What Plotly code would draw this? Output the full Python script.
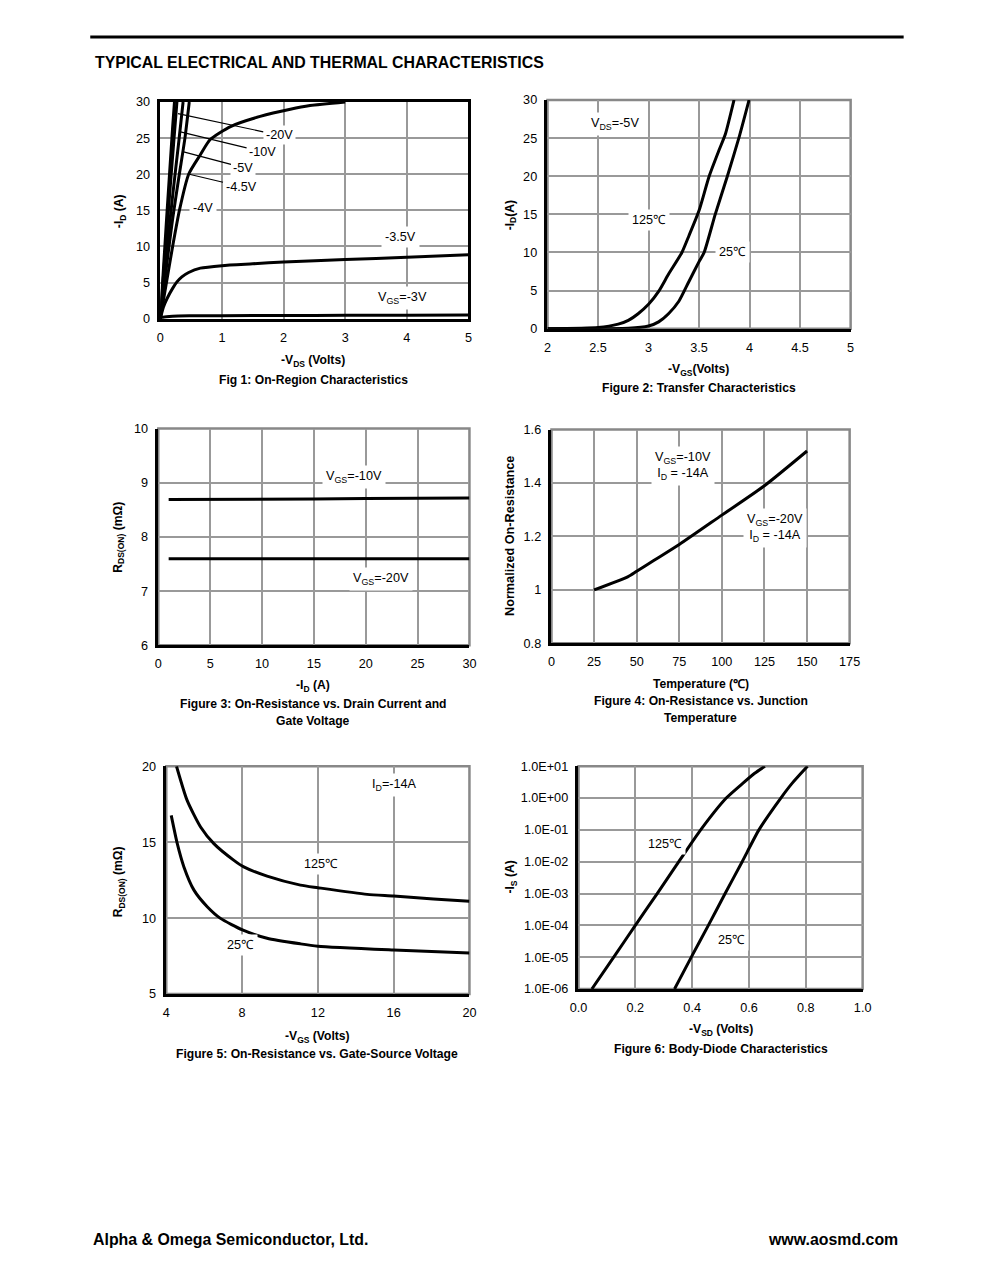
import plotly.graph_objects as go

# Page is 991x1276; the html body keeps its default 8px margin,
# so the figure is 975x1260 and page pixel p maps to figure pixel p-8.
# The photographed picture is slightly shrunk towards its centre, so target
# picture positions are converted back with (S, O).
PAGE_OFF = 8
W, H = 975, 1260
S_X, O_X = 0.979, 8.95
S_Y, O_Y = 0.990, 6.0
FS = 1 / 0.987
FONT = "Liberation Sans, Arial, sans-serif"

# ---------------- DATA ----------------
# Fig 1: On-region characteristics  (-VDS, -ID)
f1_vgs20_x = [0, 0.1, 0.2, 0.23]
f1_vgs20_y = [0, 13.5, 26.5, 30]
f1_vgs10_x = [0, 0.1, 0.2, 0.27]
f1_vgs10_y = [0, 11.5, 22.5, 30]
f1_vgs5_x = [0, 0.1, 0.2, 0.3, 0.37]
f1_vgs5_y = [0, 8.8, 17, 24.5, 30]
f1_vgs45_x = [0, 0.1, 0.2, 0.3, 0.4, 0.47]
f1_vgs45_y = [0, 7.2, 13.8, 19.5, 25, 30]
f1_vgs4_x = [0, 0.1, 0.2, 0.31, 0.46, 0.65, 0.81, 1.14, 1.62, 2.11, 2.43, 3.0]
f1_vgs4_y = [0, 5, 10, 15, 20, 22.7, 24.8, 26.6, 28.0, 29.0, 29.5, 30]
f1_vgs35_x = [0, 0.05, 0.11, 0.2, 0.27, 0.35, 0.46, 0.65, 1.0, 1.5, 2, 3, 4, 5]
f1_vgs35_y = [0, 1.6, 2.8, 4.2, 5.1, 5.8, 6.4, 7.0, 7.35, 7.6, 7.85, 8.2, 8.5, 8.85]
f1_vgs3_x = [0, 0.05, 0.2, 0.5, 1, 2, 3, 4, 5]
f1_vgs3_y = [0, 0.2, 0.35, 0.4, 0.42, 0.45, 0.47, 0.48, 0.5]

# Fig 2: Transfer characteristics (-VGS, -ID)
f2_125_x = [2.0, 2.5, 2.7, 2.8, 2.9, 3.0, 3.1, 3.2, 3.33, 3.4, 3.5, 3.6, 3.7, 3.76, 3.846]
f2_125_y = [0, 0.15, 0.6, 1.1, 2.0, 3.2, 4.9, 7.2, 10, 12.2, 15.5, 20, 23.5, 25.5, 30]
f2_25_x = [2.0, 2.8, 3.0, 3.1, 3.2, 3.3, 3.4, 3.5, 3.55, 3.66, 3.78, 3.9, 3.995]
f2_25_y = [0, 0.05, 0.35, 0.9, 2.0, 3.6, 6.2, 8.8, 10, 15, 20, 25.3, 30]

# Fig 3: RDS(ON) vs ID
f3_id = [1, 5, 10, 15, 20, 25, 30]
f3_vgs10 = [8.69, 8.69, 8.70, 8.70, 8.71, 8.71, 8.72]
f3_vgs20 = [7.60, 7.60, 7.60, 7.60, 7.60, 7.60, 7.60]

# Fig 4: Normalized RDS(ON) vs temperature
f4_t = [25, 45, 50, 60, 75, 100, 125, 150]
f4_r = [1.0, 1.05, 1.07, 1.11, 1.17, 1.28, 1.39, 1.52]

# Fig 5: RDS(ON) vs VGS
f5_125_x = [4.54, 5.1, 5.81, 6.51, 7.57, 8.09, 9.32, 11.08, 12, 14.6, 16, 18.1, 20]
f5_125_y = [20, 17.75, 16.0, 14.9, 13.8, 13.37, 12.76, 12.17, 12.0, 11.56, 11.45, 11.25, 11.1]
f5_25_x = [4.26, 4.58, 4.93, 5.46, 6.16, 6.86, 8.02, 9.32, 11.08, 12, 16, 20]
f5_25_y = [16.76, 14.9, 13.37, 11.84, 10.75, 9.98, 9.22, 8.67, 8.30, 8.15, 7.9, 7.7]

# Fig 6: Body diode (-VSD, -IS)
f6_125_x = [0.047, 0.124, 0.200, 0.277, 0.353, 0.43, 0.52, 0.58, 0.62, 0.656]
f6_125_y = [1e-6, 1e-5, 1e-4, 1e-3, 1e-2, 1e-1, 1, 3, 6, 10]
f6_25_x = [0.338, 0.397, 0.457, 0.516, 0.576, 0.635, 0.712, 0.753, 0.806]
f6_25_y = [1e-6, 1e-5, 1e-4, 1e-3, 1e-2, 1e-1, 1, 3, 10]

f6_tickvals = [1e-6, 1e-5, 1e-4, 1e-3, 1e-2, 1e-1, 1, 10]
f6_ticktext = ["1.0E-06", "1.0E-05", "1.0E-04", "1.0E-03", "1.0E-02", "1.0E-01", "1.0E+00", "1.0E+01"]

# ---------------- LAYOUT HELPERS ----------------
def px_x(p):
    page = (p - O_X) / S_X
    return (page - PAGE_OFF) / W

def px_y(p):
    page = (p - O_Y) / S_Y
    return 1 - (page - PAGE_OFF) / H

fig = go.Figure()
layout = dict(
    width=W, height=H, autosize=False,
    margin=dict(l=0, r=0, t=0, b=0),
    paper_bgcolor="white", plot_bgcolor="white",
    showlegend=False,
    font=dict(family=FONT, size=12 * FS, color="black"),
)

GRID = "#999999"
TICKSZ = 12.5 * FS
boxes = {
    1: (160, 468, 101, 318),
    2: (547, 850, 99, 328),
    3: (158, 469, 428, 645),
    4: (551, 849, 429, 643),
    5: (166, 469, 766, 994),
    6: (578, 862, 766, 989),
}

def axes(i, xrange, yrange, xtv, xtt, ytv, ytt, ylog=False):
    x0, x1, y0, y1 = boxes[i]
    s = "" if i == 1 else str(i)
    common = dict(showgrid=True, gridcolor=GRID, gridwidth=2, zeroline=False,
                  showline=True, linecolor="black", linewidth=2.5,
                  ticks="", tickfont=dict(family=FONT, size=TICKSZ, color="black"),
                  fixedrange=True, mirror=(i == 1))
    layout["xaxis" + s] = dict(common, domain=[px_x(x0), px_x(x1)], range=xrange,
                                anchor="y" + s, tickvals=xtv, ticktext=xtt,
                                ticklabelstandoff=5)
    yax = dict(common, domain=[px_y(y1), px_y(y0)], anchor="x" + s,
               tickvals=ytv, ticktext=ytt, ticklabelstandoff=5)
    if ylog:
        yax.update(type="log", range=yrange)
    else:
        yax.update(range=yrange)
    layout["yaxis" + s] = yax

def fmt(v):
    return ("%g" % v)

x1t = [0, 1, 2, 3, 4, 5]
axes(1, [0, 5], [0, 30], x1t, [fmt(v) for v in x1t],
     [0, 5, 10, 15, 20, 25, 30], [fmt(v) for v in [0, 5, 10, 15, 20, 25, 30]])
x2t = [2, 2.5, 3, 3.5, 4, 4.5, 5]
axes(2, [2, 5], [0, 30], x2t, [fmt(v) for v in x2t],
     [0, 5, 10, 15, 20, 25, 30], [fmt(v) for v in [0, 5, 10, 15, 20, 25, 30]])
x3t = [0, 5, 10, 15, 20, 25, 30]
axes(3, [0, 30], [6, 10], x3t, [fmt(v) for v in x3t],
     [6, 7, 8, 9, 10], [fmt(v) for v in [6, 7, 8, 9, 10]])
x4t = [0, 25, 50, 75, 100, 125, 150, 175]
y4t = [0.8, 1.0, 1.2, 1.4, 1.6]
axes(4, [0, 175], [0.8, 1.6], x4t, [fmt(v) for v in x4t], y4t, ["0.8", "1", "1.2", "1.4", "1.6"])
x5t = [4, 8, 12, 16, 20]
axes(5, [4, 20], [5, 20], x5t, [fmt(v) for v in x5t],
     [5, 10, 15, 20], [fmt(v) for v in [5, 10, 15, 20]])
x6t = [0, 0.2, 0.4, 0.6, 0.8, 1.0]
axes(6, [0, 1], [-6, 1], x6t, ["%.1f" % v for v in x6t], f6_tickvals, f6_ticktext, ylog=True)

# gray top/right borders for figs 2-6
shapes = []
for i in range(2, 7):
    s = str(i)
    shapes.append(dict(type="rect", xref="x%s domain" % s, yref="y%s domain" % s,
                       x0=0, x1=1, y0=0, y1=1, line=dict(color="#888888", width=2.5),
                       layer="below"))
# page header rule
shapes.append(dict(type="line", xref="paper", yref="paper",
                   x0=px_x(90), x1=px_x(903), y0=px_y(36), y1=px_y(36),
                   line=dict(color="black", width=3)))
layout["shapes"] = shapes

# ---------------- TRACES ----------------
def line(x, y, i, shape="spline"):
    s = "" if i == 1 else str(i)
    fig.add_trace(go.Scatter(x=x, y=y, mode="lines", xaxis="x" + s, yaxis="y" + s,
                             line=dict(color="black", width=3, shape=shape, smoothing=0.6),
                             hoverinfo="skip"))

line(f1_vgs20_x, f1_vgs20_y, 1)
line(f1_vgs10_x, f1_vgs10_y, 1)
line(f1_vgs5_x, f1_vgs5_y, 1)
line(f1_vgs45_x, f1_vgs45_y, 1)
line(f1_vgs4_x, f1_vgs4_y, 1)
line(f1_vgs35_x, f1_vgs35_y, 1)
line(f1_vgs3_x, f1_vgs3_y, 1)
line(f2_125_x, f2_125_y, 2)
line(f2_25_x, f2_25_y, 2)
line(f3_id, f3_vgs10, 3, "linear")
line(f3_id, f3_vgs20, 3, "linear")
line(f4_t, f4_r, 4)
line(f5_125_x, f5_125_y, 5)
line(f5_25_x, f5_25_y, 5)
line(f6_125_x, f6_125_y, 6)
line(f6_25_x, f6_25_y, 6)

# ---------------- ANNOTATIONS ----------------
ann = []

def lab(i, x, y, text, **kw):
    s = "" if i == 1 else str(i)
    d = dict(xref="x" + s, yref="y" + s, x=x, y=y, text=text, showarrow=False,
             bgcolor="white", borderpad=3, font=dict(family=FONT, size=TICKSZ, color="black"))
    d.update(kw)
    ann.append(d)

def arrowlab(x, y, tx, ty, text):
    ann.append(dict(xref="x", yref="y", axref="x", ayref="y", x=tx, y=ty, ax=x, ay=y,
                    text=text, showarrow=True, arrowhead=0, arrowwidth=1.2, arrowcolor="black",
                    bgcolor="white", borderpad=2, font=dict(family=FONT, size=TICKSZ, color="black")))

def ptext(px, py, text, size=12, bold=True, angle=0, xanchor="center"):
    t = "<b>%s</b>" % text if bold else text
    ann.append(dict(xref="paper", yref="paper", x=px_x(px), y=px_y(py), text=t,
                    showarrow=False, textangle=angle, xanchor=xanchor, yanchor="middle",
                    font=dict(family=FONT, size=size * FS, color="black")))

# Fig 1
arrowlab(1.93, 25.4, 0.287, 28.4, "-20V")
arrowlab(1.66, 23.1, 0.31, 25.9, "-10V")
arrowlab(1.35, 20.9, 0.378, 23.1, "-5V")
arrowlab(1.31, 18.3, 0.47, 20.0, "-4.5V")
lab(1, 0.70, 15.35, "-4V")
lab(1, 3.9, 11.3, "-3.5V")
lab(1, 3.93, 2.9, "V<sub>GS</sub>=-3V")
# Fig 2
lab(2, 2.67, 26.9, "V<sub>DS</sub>=-5V")
lab(2, 3.0, 14.3, "125℃")
lab(2, 3.83, 10.1, "25℃")
# Fig 3
lab(3, 18.9, 9.1, "V<sub>GS</sub>=-10V")
lab(3, 21.5, 7.23, "V<sub>GS</sub>=-20V")
# Fig 4
lab(4, 77.0, 1.462, "V<sub>GS</sub>=-10V<br>I<sub>D</sub> = -14A")
lab(4, 131.0, 1.233, "V<sub>GS</sub>=-20V<br>I<sub>D</sub> = -14A")
# Fig 5
lab(5, 16.04, 18.75, "I<sub>D</sub>=-14A")
lab(5, 12.18, 13.55, "125℃")
lab(5, 7.9, 8.2, "25℃")
# Fig 6
lab(6, 0.303, -1.45, "125℃")
lab(6, 0.539, -4.46, "25℃")

# axis titles and captions
ptext(120, 210, "-I<sub>D</sub> (A)", angle=-90)
ptext(313, 360, "-V<sub>DS</sub> (Volts)")
ptext(313, 379, "Fig 1: On-Region Characteristics")

ptext(510, 214, "-I<sub>D</sub>(A)", angle=-90)
ptext(698, 369, "-V<sub>GS</sub>(Volts)")
ptext(698, 387, "Figure 2: Transfer Characteristics")

ptext(119, 537, "R<sub>DS(ON)</sub> (mΩ)", angle=-90)
ptext(313, 686, "-I<sub>D</sub> (A)")
ptext(313, 704, "Figure 3: On-Resistance vs. Drain Current and")
ptext(313, 721, "Gate Voltage")

ptext(510, 535, "Normalized On-Resistance", size=12.5, angle=-90)
ptext(700, 684, "Temperature (℃)")
ptext(700, 701, "Figure 4: On-Resistance vs. Junction")
ptext(700, 718, "Temperature")

ptext(119, 882, "R<sub>DS(ON)</sub> (mΩ)", angle=-90)
ptext(317, 1037, "-V<sub>GS</sub> (Volts)")
ptext(317, 1054, "Figure 5: On-Resistance vs. Gate-Source Voltage")

ptext(511, 877, "-I<sub>S</sub> (A)", angle=-90)
ptext(720, 1030, "-V<sub>SD</sub> (Volts)")
ptext(720, 1049, "Figure 6: Body-Diode Characteristics")

# page header / footer
ptext(93, 61, "TYPICAL ELECTRICAL AND THERMAL CHARACTERISTICS", size=15.7, xanchor="left")
ptext(91, 1240, "Alpha &amp; Omega Semiconductor, Ltd.", size=15.7, xanchor="left")
ptext(899, 1240, "www.aosmd.com", size=15.7, xanchor="right")

layout["annotations"] = ann
fig.update_layout(**layout)
fig.write_html("out.html", config={"displayModeBar": False, "responsive": False})
